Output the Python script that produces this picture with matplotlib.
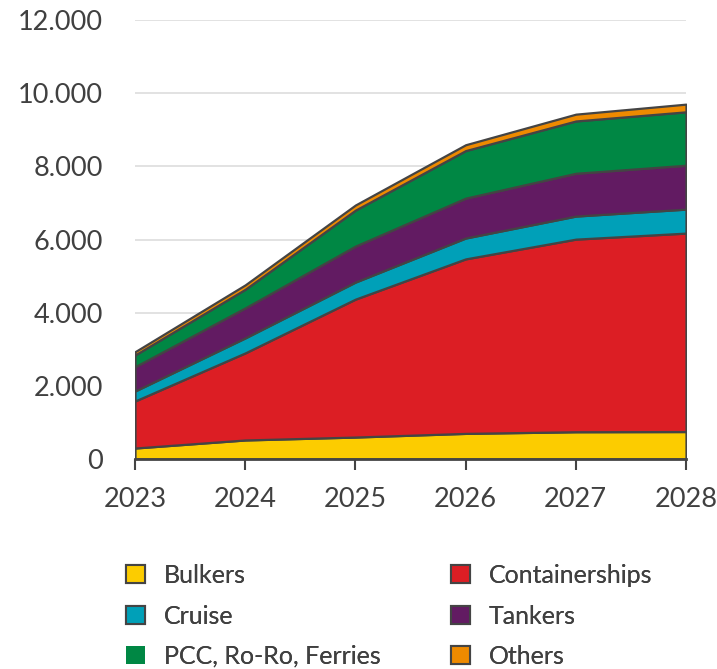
import numpy as np
import matplotlib
matplotlib.use("Agg")
import matplotlib.pyplot as plt
from matplotlib.patches import Patch
from matplotlib.ticker import FuncFormatter

years = [2023, 2024, 2025, 2026, 2027, 2028]

# values per segment (stacked)
bulkers = [300, 520, 600, 700, 745, 750]
containerships = [1285, 2380, 3770, 4770, 5265, 5425]
cruise = [273, 410, 466, 570, 630, 655]
tankers = [664, 820, 984, 1090, 1170, 1200]
pcc_roro_ferries = [320, 510, 983, 1300, 1430, 1460]
others = [90, 120, 140, 160, 186, 210]

labels = ["Bulkers", "Containerships", "Cruise", "Tankers",
          "PCC, Ro-Ro, Ferries", "Others"]
colors = ["#FCCC00", "#DC1E24", "#00A0B8", "#621B62", "#008744", "#EE8A00"]

text_col = "#404040"
edge_col = "#444444"

plt.rcParams['font.family'] = ['Lato', 'DejaVu Sans']

fig = plt.figure(figsize=(7.17, 6.69), dpi=100)
ax = fig.add_axes([135 / 717, 210 / 669, 551 / 717, 439 / 669])

series = [bulkers, containerships, cruise, tankers, pcc_roro_ferries, others]
ax.stackplot(years, series, colors=colors, edgecolor=edge_col,
             linewidth=1.6, zorder=3)

ax.set_xlim(years[0], years[-1])
ax.set_ylim(0, 12000)
ax.set_yticks(np.arange(0, 12001, 2000))
ax.set_xticks(years)
ax.yaxis.set_major_formatter(FuncFormatter(lambda v, p: f"{int(v):,}".replace(",", ".")))

for y in range(2000, 12001, 2000):
    ax.axhline(y, color="#dddddd", linewidth=1.2, zorder=1)

for s in ["top", "right", "left"]:
    ax.spines[s].set_visible(False)
ax.spines["bottom"].set_color(edge_col)
ax.spines["bottom"].set_linewidth(2)
ax.spines["bottom"].set_zorder(5)

ax.tick_params(axis="y", length=0, pad=23, labelsize=19.5, labelcolor=text_col)
ax.tick_params(axis="x", length=8, width=1.5, color=edge_col, pad=12,
               labelsize=19.5, labelcolor=text_col)

# legend: two columns, placed separately
columns = [([0, 2, 4], 126), ([1, 3, 5], 451)]
for idx, x0 in columns:
    handles = []
    for i in idx:
        ec = "none" if i == 4 else edge_col
        handles.append(Patch(facecolor=colors[i], edgecolor=ec, linewidth=1.5))
    leg = fig.legend(handles, [labels[i] for i in idx], ncol=1,
                     loc="upper left", bbox_to_anchor=(x0 / 717, 1 - 564 / 669),
                     frameon=False, fontsize=18, handlelength=0.75,
                     handleheight=0.75, handletextpad=0.75, borderpad=0,
                     borderaxespad=0, labelspacing=0.7, labelcolor=text_col)
    fig.add_artist(leg)

fig.savefig("out.png", dpi=100)
